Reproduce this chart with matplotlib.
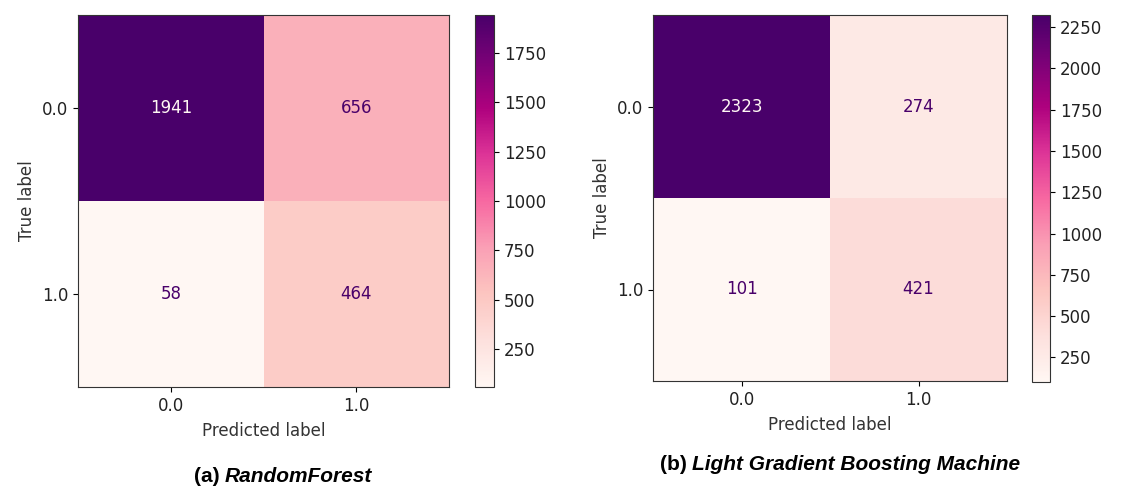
import matplotlib
matplotlib.use("Agg")
import matplotlib.pyplot as plt
import numpy as np

# confusion matrices (rows = true label, cols = predicted label)
class_labels = ["0.0", "1.0"]
cm_rf = [[1941, 656],
         [58, 464]]
cm_lgbm = [[2323, 274],
           [101, 421]]
cbar_ticks_rf = [250, 500, 750, 1000, 1250, 1500, 1750]
cbar_ticks_lgbm = [250, 500, 750, 1000, 1250, 1500, 1750, 2000, 2250]
caption_tags = ["(a) ", "(b) "]
caption_names = ["RandomForest", "Light Gradient Boosting Machine"]

W, H = 1123, 487
fig = plt.figure(figsize=(W / 100, H / 100), dpi=100)
cmap = plt.get_cmap("RdPu")
FS = 12

def box(x0, y0, x1, y1):
    # pixel box (top-left origin) -> figure fraction rect
    return [x0 / W, 1 - y1 / H, (x1 - x0) / W, (y1 - y0) / H]

def draw_cm(ax, cax, cm, ticks):
    cm = np.array(cm)
    im = ax.imshow(cm, cmap=cmap, interpolation="nearest", aspect="auto")
    lo, hi = cm.min(), cm.max()
    thresh = (lo + hi) / 2.0
    for i in range(cm.shape[0]):
        for j in range(cm.shape[1]):
            col = cmap(0) if cm[i, j] > thresh else cmap(256)
            ax.text(j, i, str(cm[i, j]), ha="center", va="center",
                    color=col, fontsize=FS)
    ax.set_xticks(range(len(class_labels)))
    ax.set_yticks(range(len(class_labels)))
    ax.set_xticklabels(class_labels)
    ax.set_yticklabels(class_labels)
    ax.set_xlabel("Predicted label", fontsize=FS, color="#333333", labelpad=5)
    ax.set_ylabel("True label", fontsize=FS, color="#333333")
    ax.tick_params(labelsize=FS, labelcolor="#222222")
    for s in ax.spines.values():
        s.set_color("#333333")
    cb = fig.colorbar(im, cax=cax)
    cb.set_ticks(ticks)
    cb.ax.tick_params(labelsize=FS, labelcolor="#222222")
    cb.outline.set_edgecolor("#333333")

ax1 = fig.add_axes(box(78, 15, 449, 387))
cax1 = fig.add_axes(box(475, 15, 494, 387))
draw_cm(ax1, cax1, cm_rf, cbar_ticks_rf)

ax2 = fig.add_axes(box(653, 15, 1007, 381))
cax2 = fig.add_axes(box(1032, 15, 1050, 382))
draw_cm(ax2, cax2, cm_lgbm, cbar_ticks_lgbm)

# captions: bold tag followed by bold-italic model name, centred as a unit
def caption(cx, cy, tag, name):
    renderer = fig.canvas.get_renderer()
    kw = dict(fontsize=15, fontweight="bold", family="Liberation Sans",
              va="center", ha="left")
    t1 = fig.text(0, 1 - cy / H, tag, **kw)
    t2 = fig.text(0, 1 - cy / H, name, style="italic", **kw)
    w1 = t1.get_window_extent(renderer).width
    w2 = t2.get_window_extent(renderer).width
    x0 = cx - (w1 + w2) / 2
    t1.set_x(x0 / W)
    t2.set_x((x0 + w1) / W)

caption(283, 477, caption_tags[0], caption_names[0])
caption(840, 465, caption_tags[1], caption_names[1])

fig.savefig("out.png", dpi=100)
